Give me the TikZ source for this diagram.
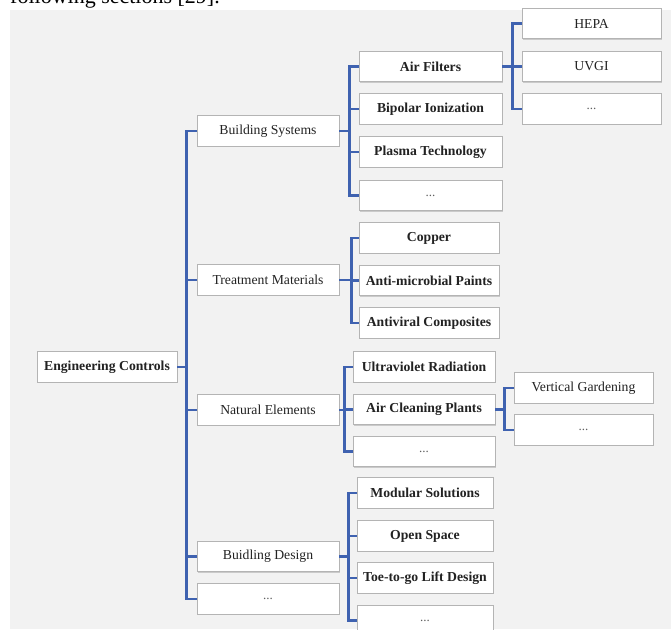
\documentclass[tikz,border=0pt]{standalone}
\usepackage{fontspec}
\setmainfont{Liberation Serif}
\usetikzlibrary{shadows}
\definecolor{bgray}{HTML}{F2F2F2}
\definecolor{conn}{HTML}{3F62B0}
\definecolor{boxline}{HTML}{B4B4B4}
\definecolor{txt}{HTML}{222222}
\tikzset{
  box/.style={draw=boxline, line width=0.8pt, fill=white, rectangle,
    minimum height=30.5pt, inner sep=0pt, text=txt,
    font=\fontsize{13.7}{16}\selectfont,
    drop shadow={shadow xshift=0.9pt, shadow yshift=-0.9pt, opacity=0.35, fill=gray}},
  boldbox/.style={box, font=\fontsize{13.7}{16}\selectfont\bfseries},
  dots/.style={box, font=\fontsize{13}{15}\selectfont, text=gray!75!black},
  link/.style={draw=conn, line width=2.8pt, line join=miter}
}
\begin{document}
\begin{tikzpicture}[x=1pt,y=-1pt]
\useasboundingbox (0,0) rectangle (671,629);
\clip (0,0) rectangle (671,629);
\fill[white] (0,0) rectangle (671,629);
\fill[bgray] (10,10) rectangle (671,629);
\node[anchor=base west, inner sep=0pt, font=\fontsize{22}{26}\selectfont, text=black] (cap) at (10,3) {following sections [29].};

% root
\node[boldbox, minimum width=140pt] (ec) at (107,367) {Engineering Controls};

% level 1
\begin{scope}[every node/.append style={minimum width=142pt}]
\node[box] (bs) at (268,131) {Building Systems};
\node[box] (tm) at (268,280) {Treatment Materials};
\node[box] (ne) at (268,410) {Natural Elements};
\node[box] (bd) at (268,556.5) {Buidling Design};
\node[dots] (l1d) at (268,599) {...};
\end{scope}

% building systems children
\begin{scope}[every node/.append style={minimum width=143pt}]
\node[boldbox] (af) at (430.5,66.5) {Air Filters};
\node[boldbox] (bi) at (430.5,109) {Bipolar Ionization};
\node[boldbox] (pt) at (430.5,152) {Plasma Technology};
\node[dots] (bsd) at (430.5,195.5) {...};
\end{scope}

% air filters children
\begin{scope}[every node/.append style={minimum width=139pt}]
\node[box] (hepa) at (591.5,23.5) {HEPA};
\node[box] (uvgi) at (591.5,66.5) {UVGI};
\node[dots] (afd) at (591.5,109) {...};
\end{scope}

% treatment materials children
\begin{scope}[every node/.append style={minimum width=140pt}]
\node[boldbox] (cu) at (429,238) {Copper};
\node[boldbox] (amp) at (429,280.5) {Anti-microbial Paints};
\node[boldbox] (avc) at (429,323) {Antiviral Composites};
\end{scope}

% natural elements children
\begin{scope}[every node/.append style={minimum width=142pt}]
\node[boldbox] (uv) at (424,367) {Ultraviolet Radiation};
\node[boldbox] (acp) at (424,409.5) {Air Cleaning Plants};
\node[dots] (ned) at (424,451.5) {...};
\end{scope}

% air cleaning plants children
\begin{scope}[every node/.append style={minimum width=139pt}]
\node[box] (vg) at (583.5,388) {Vertical Gardening};
\node[dots] (acpd) at (583.5,430) {...};
\end{scope}

% building design children
\begin{scope}[every node/.append style={minimum width=136pt}]
\node[boldbox] (ms) at (425,493) {Modular Solutions};
\node[boldbox] (os) at (425,536) {Open Space};
\node[boldbox] (tl) at (425,578) {Toe-to-go Lift Design};
\node[dots] (bdd) at (425,620.5) {...};
\end{scope}

% connectors
\foreach \c in {bs,tm,ne,bd,l1d} \draw[link] (ec.east) -- ++(9,0) |- (\c.west);
\foreach \c in {af,bi,pt,bsd} \draw[link] (bs.east) -- ++(10,0) |- (\c.west);
\foreach \c in {hepa,uvgi,afd} \draw[link] (af.east) -- ++(10,0) |- (\c.west);
\foreach \c in {cu,amp,avc} \draw[link] (tm.east) -- ++(12,0) |- (\c.west);
\foreach \c in {uv,acp,ned} \draw[link] (ne.east) -- ++(5,0) |- (\c.west);
\foreach \c in {vg,acpd} \draw[link] (acp.east) -- ++(9,0) |- (\c.west);
\foreach \c in {ms,os,tl,bdd} \draw[link] (bd.east) -- ++(9,0) |- (\c.west);
\end{tikzpicture}
\end{document}
